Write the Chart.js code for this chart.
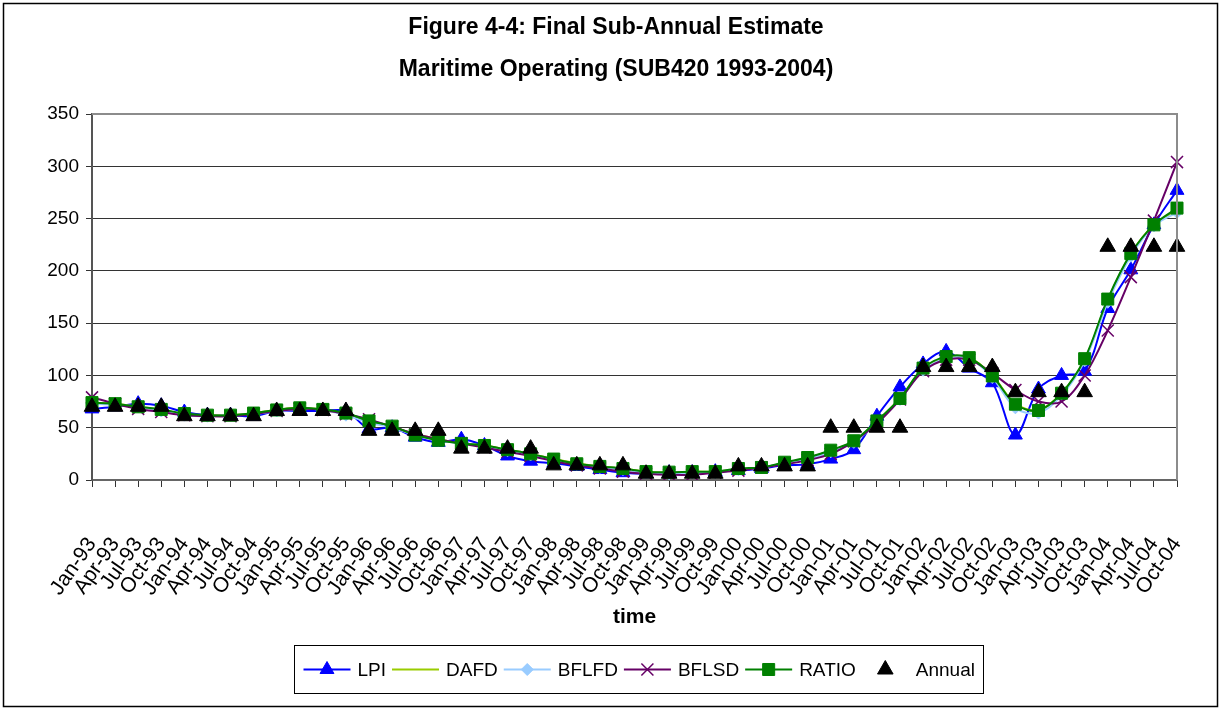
<!DOCTYPE html>
<html>
<head>
<meta charset="utf-8">
<script src="https://cdn.jsdelivr.net/npm/chart.js@4.4.1/dist/chart.umd.min.js"></script>
<style>
  html, body { margin: 0; padding: 0; background: #fff; }
  canvas { display: block; }
</style>
</head>
<body>
<canvas id="subAnnualChart" width="1220" height="708"></canvas>
<script>
// quarterly periods, 1993-2004
const quarters = [
  "Jan-93", "Apr-93", "Jul-93", "Oct-93", "Jan-94", "Apr-94", "Jul-94", "Oct-94",
  "Jan-95", "Apr-95", "Jul-95", "Oct-95", "Jan-96", "Apr-96", "Jul-96", "Oct-96",
  "Jan-97", "Apr-97", "Jul-97", "Oct-97", "Jan-98", "Apr-98", "Jul-98", "Oct-98",
  "Jan-99", "Apr-99", "Jul-99", "Oct-99", "Jan-00", "Apr-00", "Jul-00", "Oct-00",
  "Jan-01", "Apr-01", "Jul-01", "Oct-01", "Jan-02", "Apr-02", "Jul-02", "Oct-02",
  "Jan-03", "Apr-03", "Jul-03", "Oct-03", "Jan-04", "Apr-04", "Jul-04", "Oct-04"
];

const lpi = [68, 70, 73, 71, 65, 62, 62, 61, 66, 66, 66, 66, 49, 50, 41, 36,
  39, 33, 23, 18, 16, 13, 10, 7, 6, 7, 7, 8, 9, 11, 14, 15,
  20, 29, 61, 89, 111, 123, 107, 93, 43, 87, 100, 104, 164, 201, 244, 277];

const dafd = [74, 73, 70, 67, 63, 62, 62, 64, 67, 69, 67, 63, 56, 51, 44, 39,
  35, 33, 29, 25, 20, 16, 13, 11, 8, 7, 8, 8, 10, 12, 16, 21,
  28, 37, 56, 78, 106, 117, 117, 100, 73, 67, 83, 115, 172, 216, 244, 258];

const bflfd = [73, 72, 70, 66, 62, 61, 62, 63, 66, 68, 67, 62, 55, 50, 43, 38,
  35, 32, 28, 24, 19, 15, 12, 10, 7, 6, 7, 7, 10, 12, 16, 20,
  27, 36, 55, 77, 105, 116, 116, 98, 69, 64, 81, 114, 170, 214, 243, 256];

const bflsd = [79, 73, 68, 65, 62, 61, 61, 63, 66, 68, 67, 63, 58, 51, 44, 39,
  35, 31, 27, 23, 18, 14, 11, 8, 6, 5, 5, 7, 9, 12, 15, 19,
  25, 37, 54, 77, 104, 115, 115, 102, 86, 75, 75, 100, 143, 194, 248, 304];

const ratio = [74, 73, 70, 67.5, 63.5, 62, 62, 64, 67, 69, 67.5, 64, 56.5, 51.5, 43, 38,
  35, 33, 29, 25, 20, 15.5, 13, 11, 8, 7.5, 8, 8, 11, 12, 17, 21.5,
  28.5, 37.5, 56.5, 78, 107, 118, 117, 99.5, 72.5, 66.5, 83, 116, 173, 216.5, 244, 260];

const annual = [70, 70, 70, 70, 61, 61, 61, 61, 66, 66, 66, 66, 47, 47, 47, 47,
  30, 30, 30, 30, 14, 14, 14, 14, 6, 6, 6, 6, 13, 13, 13, 13,
  50, 50, 50, 50, 108, 108, 108, 108, 84, 84, 84, 84, 223, 223, 223, 223];

const yTicks = [0, 50, 100, 150, 200, 250, 300, 350];

const titleLines = ["Figure 4-4: Final Sub-Annual Estimate", "Maritime Operating (SUB420 1993-2004)"];

const FONT = "'Liberation Sans', Arial, sans-serif";

function lineSeries(label, data, color, style, radius, order, fill) {
  return {
    label: label,
    data: data,
    borderColor: color,
    backgroundColor: color,
    borderWidth: 2,
    pointStyle: style,
    pointRadius: radius,
    pointHoverRadius: radius,
    pointBackgroundColor: fill || color,
    pointBorderColor: color,
    pointBorderWidth: style === "crossRot" ? 1.5 : 1,
    tension: 0.35,
    order: order
  };
}

// frame, titles and the boxed legend with line + marker samples
const decorations = {
  id: "decorations",
  beforeDraw(chart) {
    const ctx = chart.ctx;
    ctx.save();
    ctx.fillStyle = "#fff";
    ctx.fillRect(0, 0, chart.width, chart.height);
    ctx.restore();
  },
  afterDraw(chart) {
    const ctx = chart.ctx;
    const area = chart.chartArea;
    ctx.save();

    // plot area border (top and right)
    ctx.strokeStyle = "#8c8c8c";
    ctx.lineWidth = 2;
    ctx.beginPath();
    ctx.moveTo(area.left, area.top);
    ctx.lineTo(area.right, area.top);
    ctx.lineTo(area.right, area.bottom);
    ctx.stroke();

    // outer frame
    ctx.strokeStyle = "#000";
    ctx.lineWidth = 1.5;
    ctx.strokeRect(3.5, 3.5, chart.width - 6, chart.height - 5);

    // chart title, two centred lines
    ctx.fillStyle = "#000";
    ctx.font = "bold 23px " + FONT;
    ctx.textAlign = "center";
    ctx.textBaseline = "middle";
    titleLines.forEach((line, i) => ctx.fillText(line, 616, 28 + i * 42));

    // x axis title
    ctx.font = "bold 21px " + FONT;
    ctx.fillText("time", (area.left + area.right) / 2, 617);

    // legend
    ctx.font = "19px " + FONT;
    const sample = 47, gapAfterSample = 7, gapAfterText = 6;
    const items = chart.data.datasets.map((ds) => ({ ds: ds, w: ctx.measureText(ds.label).width }));
    let total = 0;
    items.forEach((it, i) => {
      total += sample + gapAfterSample + it.w + (i < items.length - 1 ? gapAfterText : 0);
    });
    const boxW = Math.round(total + 18), boxH = 48;
    const boxX = Math.round(638 - boxW / 2) + 0.5, boxY = 645.5;
    ctx.strokeStyle = "#000";
    ctx.lineWidth = 1;
    ctx.strokeRect(boxX, boxY, boxW, boxH);

    const cy = boxY + boxH / 2;
    let x = boxX + 9;
    items.forEach((it) => {
      const ds = it.ds;
      if (ds.showLine !== false) {
        ctx.strokeStyle = ds.borderColor;
        ctx.lineWidth = 2;
        ctx.beginPath();
        ctx.moveTo(x, cy);
        ctx.lineTo(x + sample, cy);
        ctx.stroke();
      }
      ctx.fillStyle = ds.pointBackgroundColor;
      ctx.strokeStyle = ds.pointBorderColor;
      ctx.lineWidth = ds.pointBorderWidth;
      Chart.helpers.drawPoint(ctx, {
        pointStyle: ds.pointStyle,
        radius: ds.pointRadius,
        rotation: 0,
        borderWidth: ds.pointBorderWidth
      }, x + sample / 2, cy);
      x += sample + gapAfterSample;
      ctx.fillStyle = "#000";
      ctx.textAlign = "left";
      ctx.textBaseline = "middle";
      ctx.fillText(ds.label, x, cy + 1);
      x += it.w + gapAfterText;
    });
    ctx.restore();
  }
};

new Chart(document.getElementById("subAnnualChart"), {
  type: "line",
  data: {
    labels: quarters,
    datasets: [
      lineSeries("LPI", lpi, "#0000ff", "triangle", 8, 5),
      lineSeries("DAFD", dafd, "#99cc00", "line", 3, 4),
      lineSeries("BFLFD", bflfd, "#99ccff", "rectRot", 6, 3),
      lineSeries("BFLSD", bflsd, "#660066", "crossRot", 8.5, 2),
      lineSeries("RATIO", ratio, "#008000", "rect", 8.5, 1),
      {
        label: "Annual",
        data: annual,
        showLine: false,
        borderColor: "#000",
        backgroundColor: "#000",
        pointStyle: "triangle",
        pointRadius: 9,
        pointHoverRadius: 9,
        pointBackgroundColor: "#000",
        pointBorderColor: "#000",
        pointBorderWidth: 1,
        order: 0
      }
    ]
  },
  options: {
    responsive: false,
    animation: false,
    devicePixelRatio: 1,
    layout: { padding: { top: 114, right: 43, bottom: 0, left: 0 } },
    plugins: {
      legend: { display: false },
      tooltip: { enabled: false },
      title: { display: false }
    },
    scales: {
      x: {
        offset: false,
        grid: { drawOnChartArea: false, color: "#333", tickLength: 7, tickWidth: 1 },
        border: { color: "#666", width: 2 },
        ticks: {
          autoSkip: false,
          maxRotation: 55,
          minRotation: 55,
          padding: 46,
          color: "#000",
          font: { family: FONT, size: 21 }
        },
        afterFit(scale) {
          scale.height = 228;
          scale.paddingLeft = 0;
          scale.paddingRight = 0;
        }
      },
      y: {
        min: 0,
        max: 350,
        afterBuildTicks(scale) { scale.ticks = yTicks.map((v) => ({ value: v })); },
        grid: { color: "#333", tickLength: 6, lineWidth: 1 },
        border: { color: "#555", width: 2 },
        ticks: {
          padding: 7,
          color: "#000",
          font: { family: FONT, size: 19 }
        },
        afterFit(scale) {
          scale.width = 92;
          scale.paddingTop = 0;
          scale.paddingBottom = 0;
        }
      }
    }
  },
  plugins: [decorations]
});
</script>
</body>
</html>
